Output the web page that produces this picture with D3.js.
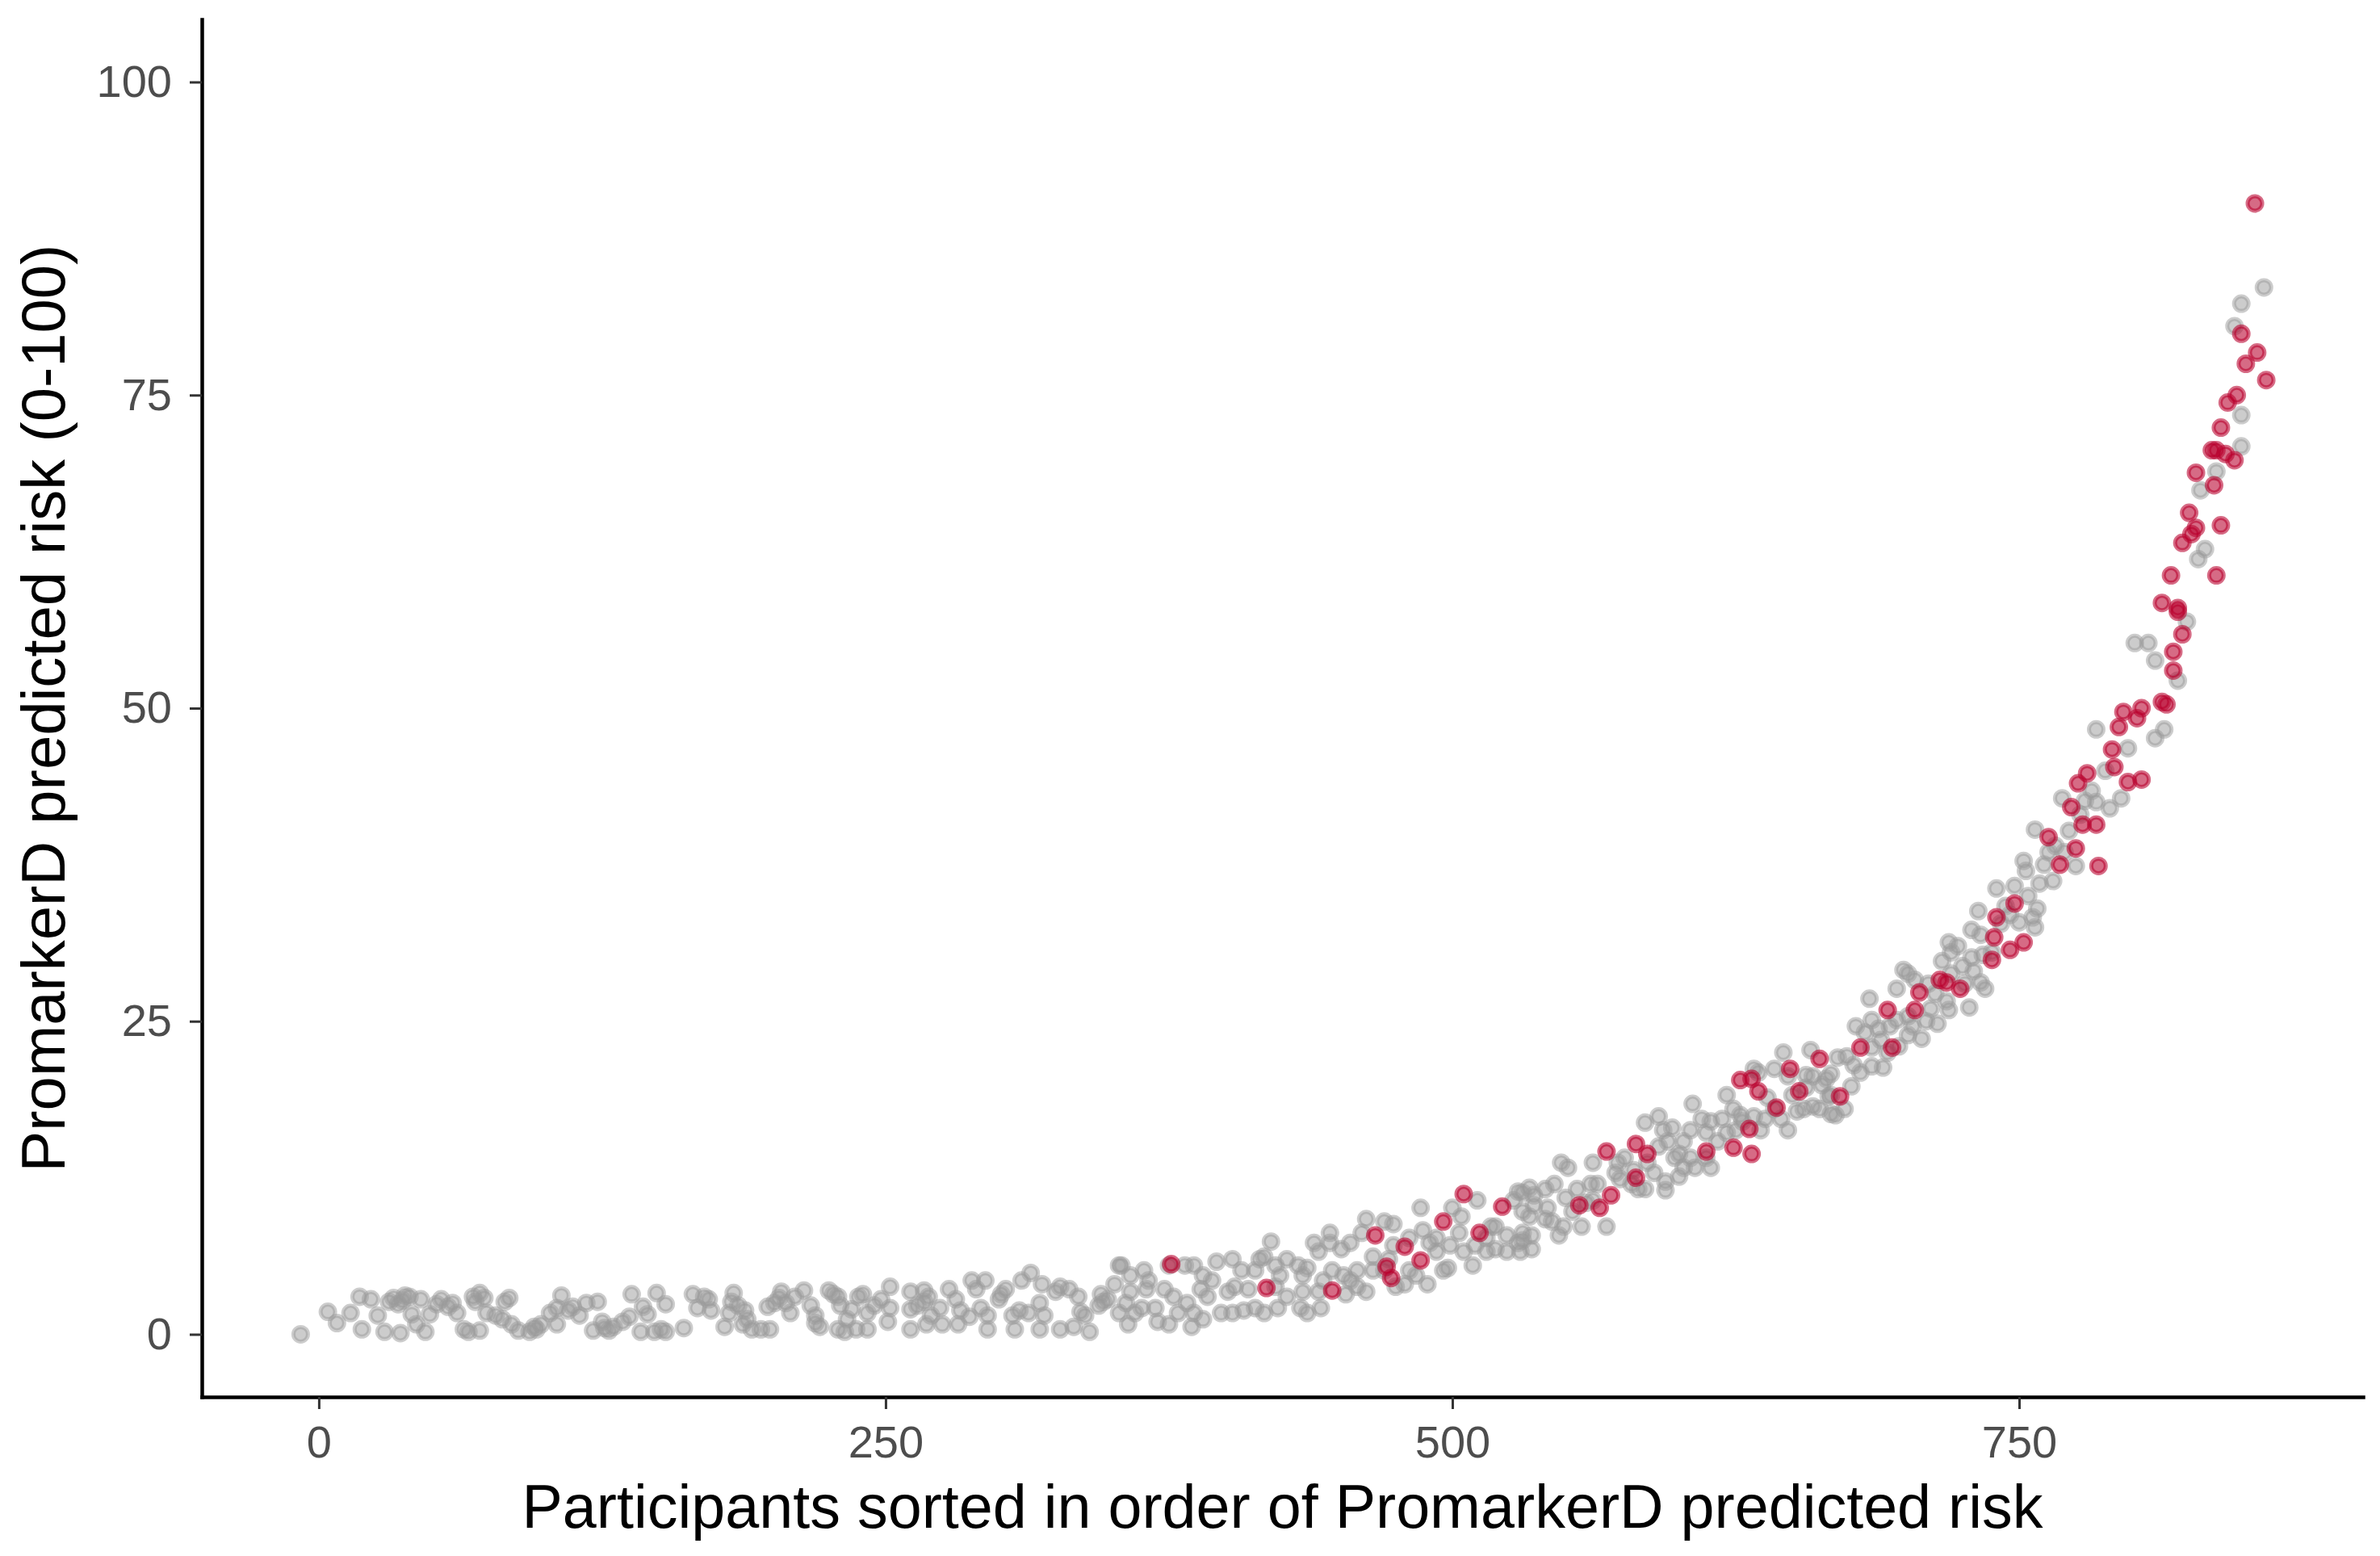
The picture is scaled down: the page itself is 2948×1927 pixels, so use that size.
<!DOCTYPE html>
<html>
<head>
<meta charset="utf-8">
<script src="https://cdn.jsdelivr.net/npm/d3@7"></script>
<style>
  html, body { margin: 0; padding: 0; background: #ffffff; }
  svg { display: block; }
</style>
</head>
<body>
<div id="chart"></div>
<script>
// ---------------- data ----------------
const xTitle = "Participants sorted in order of PromarkerD predicted risk";
const yTitle = "PromarkerD predicted risk (0-100)";
const xTickValues = [0, 250, 500, 750];
const yTickValues = [0, 25, 50, 75, 100];

// [participant rank, predicted risk] — participants without the outcome (grey)
const otherParticipants = [
  [-8,0.0],[4,1.8],[8,0.9],[14,1.7],[18,3.0],[19,0.4],[23,2.8],[26,1.5],[29,0.2],[33,2.9],[35,2.4],[36,0.1],
  [40,3.0],[41,1.6],[45,2.8],[43,0.8],[47,0.2],[49,1.6],[52,2.4],[54,2.8],[59,2.5],[61,1.7],[66,0.2],[71,0.3],
  [68,3.0],[71,3.3],[73,2.9],[74,1.7],[78,1.5],[81,1.2],[84,2.9],[85,0.8],[88,0.3],[93,0.2],[96,0.4],[98,0.8],
  [102,1.7],[105,2.1],[105,0.8],[107,3.1],[110,1.9],[115,1.5],[118,2.5],[123,2.6],[121,0.3],[125,1.0],[128,0.3],
  [130,0.6],[134,1.0],[137,1.4],[138,3.2],[142,0.2],[143,2.2],[145,1.6],[149,3.3],[148,0.2],[153,2.4],[153,0.2],
  [161,0.5],[165,3.2],[167,2.1],[170,3.0],[37,2.7],[38,3.1],[69,2.6],[82,2.6],[95,0.6],[126,0.5],[151,0.4],
  [31,2.6],[57,2.2],[64,0.4],[112,2.2],
  [172,2.8],[173,1.9],[179,0.6],[181,1.7],[183,3.3],[185,2.3],[188,1.9],[187,0.8],[191,0.4],[195,0.4],[199,0.4],
  [198,2.2],[201,2.5],[204,3.4],[206,2.5],[208,1.7],[210,3.0],[214,3.5],[217,2.3],[219,1.5],[221,0.6],[225,3.5],
  [229,3.0],[230,2.3],[229,0.4],[233,1.2],[232,0.2],[237,0.4],[238,3.0],[240,3.2],[242,1.7],[242,0.4],[245,2.3],
  [248,2.8],[252,3.8],[252,2.1],[251,1.0],[261,3.4],[261,0.4],[264,2.3],[267,3.5],[269,3.0],[268,0.8],[270,1.5],
  [274,2.1],[275,0.8],[278,3.6],[281,2.8],[283,1.9],[282,0.8],[288,4.3],[292,2.1],[294,4.3],[295,1.5],[295,0.4],
  [300,2.8],[303,3.6],[306,1.5],[307,0.4],[310,4.3],[314,4.9],[313,1.7],[318,0.4],[319,4.0],[320,1.5],[327,3.8],
  [327,0.4],[331,3.6],[335,3.0],[333,0.6],[338,1.5],[340,0.2],[344,2.3],[345,3.2],[348,2.8],[351,4.0],[353,5.5],
  [182,2.6],[203,2.9],[227,3.2],[267,2.6],[290,3.6],[301,3.2],[325,3.4],[346,2.6],[189,1.2],[219,0.9],[235,2.0],
  [261,2.0],[287,1.4],[309,1.9],[318,2.5],[336,1.8],
  [354,5.5],[358,4.7],[356,2.5],[353,1.7],[357,0.8],[360,1.7],[364,5.1],[366,4.3],[365,3.6],[369,2.1],[370,1.0],
  [375,5.5],[373,3.6],[377,3.0],[383,2.5],[382,5.5],[386,5.5],[389,3.6],[386,1.7],[385,0.6],[390,1.2],[392,3.0],
  [396,5.8],[398,1.7],[401,3.4],[403,1.7],[403,6.0],[407,5.1],[408,1.9],[413,2.1],[415,6.0],[417,6.2],[420,7.4],
  [422,5.5],[417,1.7],[423,2.1],[427,3.0],[427,6.0],[432,5.5],[434,4.7],[433,2.1],[436,5.3],[439,7.3],[441,6.6],
  [443,4.3],[442,2.1],[446,8.1],[446,7.3],[447,5.1],[451,6.8],[453,3.2],[455,7.3],[458,3.8],[460,8.1],[462,9.2],
  [462,3.4],[465,6.2],[465,5.1],[470,9.0],[474,8.8],[474,7.1],[475,3.8],[481,7.7],[481,5.1],[484,4.7],[486,10.1],
  [489,4.0],[490,7.3],[493,6.6],[498,5.3],[499,7.1],[500,10.1],[504,9.4],[505,6.6],[511,10.7],[510,7.1],[515,6.6],
  [517,8.6],[519,6.8],[524,7.9],[527,10.7],[529,11.4],[530,6.6],[534,11.7],[534,9.4],[529,7.3],
  [358,3.4],[363,2.1],[379,1.7],[375,0.8],[390,4.7],[394,4.3],[404,3.8],[410,3.6],[413,5.1],[422,3.8],[424,4.7],
  [434,3.4],[436,1.7],[441,3.4],[452,4.7],[455,4.3],[458,5.1],[470,5.1],[472,6.0],[479,4.0],[487,8.3],[493,7.7],
  [503,8.1],[496,5.1],[509,5.5],[515,7.7],[519,8.6],[524,6.6],[531,8.1],[535,6.8],
  [531,7.5],[535,7.9],[531,11.3],[536,11.1],[541,11.6],[545,12.0],[548,13.7],[551,13.3],[541,9.2],[544,9.0],
  [547,7.9],[549,8.6],[557,8.6],[555,11.6],[561,12.0],[562,13.7],[568,8.6],[574,12.4],[573,13.7],[572,12.9],
  [579,12.0],[582,11.6],[585,16.9],[591,17.4],[593,16.3],[597,16.5],[594,12.2],[594,11.5],[600,12.6],[602,15.4],
  [600,14.4],[605,14.1],[606,18.4],[607,13.3],[610,17.2],[614,17.0],[614,13.3],[612,16.1],[621,19.1],[621,16.1],
  [627,17.5],[633,17.4],[633,21.2],[638,17.2],[642,18.0],[646,22.5],[648,16.3],[652,17.8],[656,19.7],[658,22.7],
  [663,19.9],[667,17.6],[667,20.8],[670,22.1],
  [531,9.8],[536,10.3],[542,10.1],[550,10.9],[553,9.8],[559,10.5],[562,10.7],[564,12.0],[576,14.1],[580,13.1],
  [586,13.7],[589,12.9],[585,11.6],[591,15.0],[595,15.4],[605,16.3],[598,14.1],[602,13.3],[612,14.1],[617,15.4],
  [619,17.2],[624,18.0],[625,16.3],[636,16.3],[639,18.9],[645,17.2],[650,19.1],[655,18.0],[659,20.6],[662,18.0],
  [667,19.1],[648,20.6],[642,21.2],
  [628,17.0],[635,20.9],[656,20.7],[665,20.4],[666,19.0],[659,18.2],[669,17.5],[674,22.2],[678,24.6],[682,24.1],
  [685,25.1],[688,24.4],[685,22.9],[680,20.9],[685,21.4],[693,24.6],[696,25.1],[701,23.9],[701,25.4],[707,23.6],
  [684,26.8],[696,27.6],[701,28.8],[704,28.3],[699,29.1],[718,26.6],[719,25.9],[728,26.1],[716,29.8],[725,29.4],
  [720,28.8],[719,31.3],[723,31.0],[720,30.5],[729,30.1],[734,30.3],[733,28.1],[735,27.6],[729,32.3],[733,31.9],
  [732,33.8],[740,35.6],[750,32.9],[756,33.3],[757,32.5],[752,37.8],[753,37.0],[765,36.2],[759,36.0],[757,40.3],
  [772,40.2],[775,37.4],[769,42.8],[782,43.4],[784,42.5],[795,42.8],[784,48.3],[814,48.3],[810,47.6],[798,46.8],
  [689,23.5],[692,22.5],[697,23.0],[703,24.6],[709,25.0],[711,26.0],[713,27.2],[710,28.0],[714,24.8],[726,28.0],
  [730,29.0],[738,30.5],[742,32.8],[744,34.2],[746,33.5],[748,35.8],[754,35.0],[758,34.0],[761,37.5],[763,38.5],
  [766,39.0],[770,38.5],[777,41.5],[779,42.6],[788,45.0],[790,42.0],[676,19.8],[673,18.0],[677,21.5],[690,21.3],
  [858,83.6],[848,82.3],[845,80.5],[848,73.4],[848,70.9],[837,68.9],[830,67.4],[832,62.7],[829,61.9],[824,56.9],
  [801,55.2],[807,55.2],[820,52.2],[810,53.8]
];

// [participant rank, predicted risk] — participants with the outcome (red)
const highlightedParticipants = [
  [376,5.6],[418,3.7],[447,3.5],[466,7.9],[471,5.4],[473,4.5],[479,7.0],[486,5.9],[496,9.0],[505,11.2],[512,8.1],
  [522,10.2],[556,10.3],[565,10.1],[568,14.6],[570,11.1],[581,12.5],[581,15.2],[586,14.4],[612,14.6],[624,14.9],
  [627,20.3],[631,16.4],[632,14.4],[632,20.4],[635,19.4],[643,18.1],[649,21.2],[653,19.4],[662,22.0],[671,19.0],
  [680,22.9],[692,25.9],[694,22.9],[704,25.9],[706,27.3],[715,28.3],[718,28.1],[724,27.6],[738,29.9],[739,31.7],
  [740,33.3],[746,30.7],[748,34.4],[752,31.3],[763,39.7],[768,37.5],[773,42.1],[775,38.8],[776,44.0],[778,40.7],
  [780,44.8],[784,40.7],[785,37.4],[791,46.7],[792,45.3],[794,48.5],[796,49.7],[798,44.1],[802,49.2],[804,50.0],
  [804,44.3],[813,50.5],[815,50.3],[813,58.4],[817,60.6],[818,54.5],[818,53.0],[820,58.0],[820,57.7],[822,63.2],
  [822,55.9],[825,65.6],[826,63.9],[828,68.8],[828,64.4],[835,70.6],[836,67.8],[837,70.6],[837,60.6],[839,72.4],
  [839,64.6],[841,70.3],[842,74.4],[845,69.8],[846,75.0],[848,79.9],[850,77.5],[854,90.3],[855,78.4],[859,76.2]
];

// ---------------- layout ----------------
const W = 2948, H = 1927;
const panel = { left: 250, right: 2927, top: 24, bottom: 1730 };
const FONT = "'Liberation Sans', Arial, Helvetica, sans-serif";

const svg = d3.select("#chart").append("svg")
  .attr("width", W).attr("height", H)
  .attr("viewBox", `0 0 ${W} ${H}`)
  .style("background", "#ffffff");

const x = d3.scaleLinear().domain([-51.6, 901.7]).range([panel.left, panel.right]);
const y = d3.scaleLinear().domain([-5, 105]).range([panel.bottom, panel.top]);

// points
function drawPoints(data, color, alpha) {
  svg.append("g")
    .selectAll("circle")
    .data(data)
    .join("circle")
    .attr("cx", d => x(d[0]))
    .attr("cy", d => y(d[1]))
    .attr("r", 9)
    .attr("fill", color)
    .attr("fill-opacity", alpha)
    .attr("stroke", color)
    .attr("stroke-opacity", alpha)
    .attr("stroke-width", 5);
}
drawPoints(otherParticipants, "#9a9a9a", 0.5);
drawPoints(highlightedParticipants, "#b8002c", 0.58);

// axes
const xAxis = d3.axisBottom(x).tickValues(xTickValues).tickSize(15).tickSizeOuter(0).tickPadding(20);
const yAxis = d3.axisLeft(y).tickValues(yTickValues).tickSize(15).tickSizeOuter(0).tickPadding(22);

function styleAxis(g) {
  g.select(".domain").attr("stroke", "#000").attr("stroke-width", 4.5).attr("stroke-linecap", "square");
  g.selectAll(".tick line").attr("stroke", "#333").attr("stroke-width", 3);
  g.selectAll(".tick text").attr("fill", "#4d4d4d").style("font-family", FONT).style("font-size", "56px");
}

svg.append("g").attr("transform", `translate(0,${panel.bottom})`).call(xAxis).call(styleAxis);
svg.append("g").attr("transform", `translate(${panel.left},0)`).call(yAxis).call(styleAxis);

// titles
svg.append("text")
  .attr("x", (panel.left + panel.right) / 2)
  .attr("y", 1892)
  .attr("text-anchor", "middle")
  .style("font-family", FONT).style("font-size", "75.5px").attr("fill", "#000")
  .text(xTitle);

svg.append("text")
  .attr("transform", `translate(80,${(panel.top + panel.bottom) / 2}) rotate(-90)`)
  .attr("text-anchor", "middle")
  .style("font-family", FONT).style("font-size", "76px").attr("fill", "#000")
  .text(yTitle);
</script>
</body>
</html>
